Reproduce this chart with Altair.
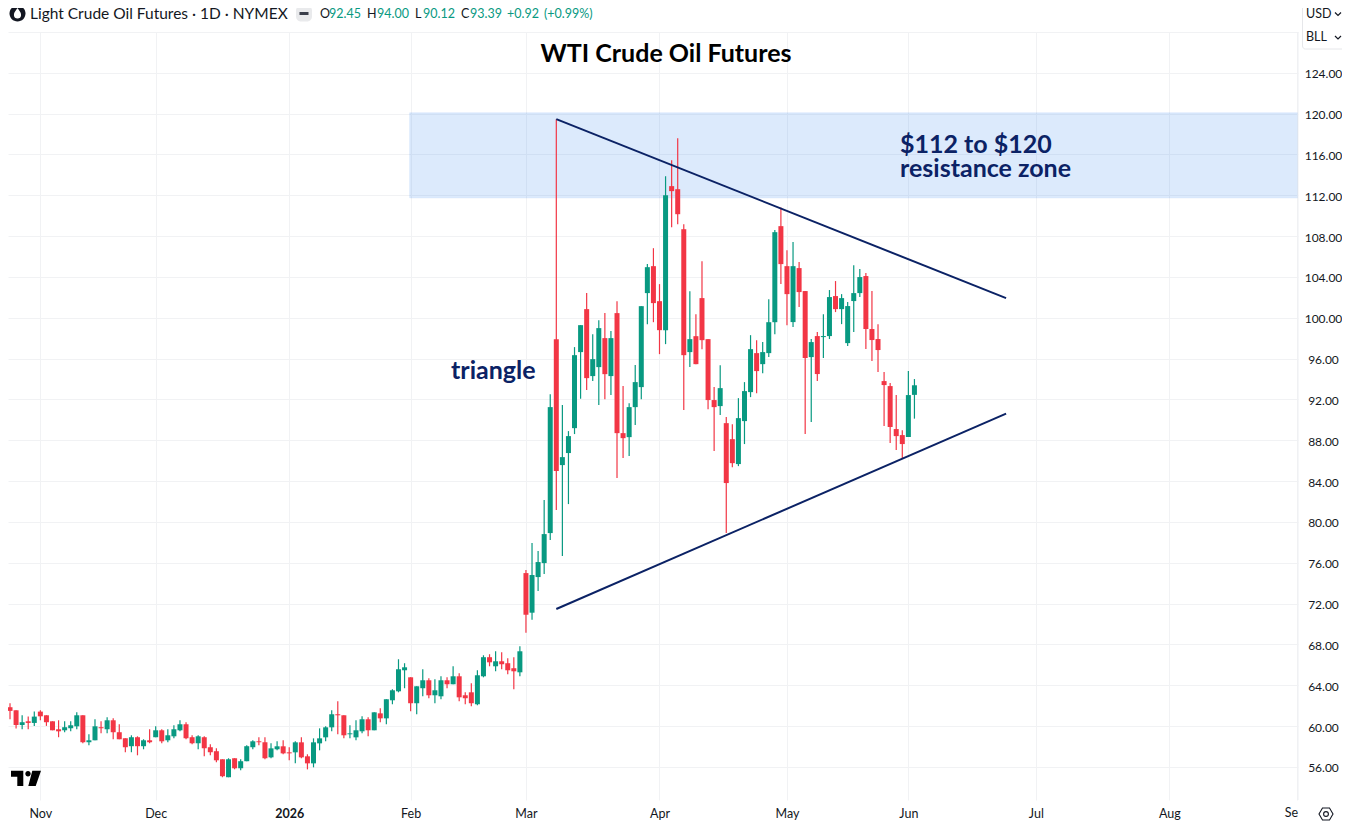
import json
import altair as alt
import pandas as pd

opens = [61.81,61.85,61.55,60.11,60.47,60.31,61.42,61.06,60.47,59.69,
59.59,59.79,59.98,61.06,58.42,58.61,59.89,59.69,60.57,59.40,
58.81,58.03,58.91,58.03,58.61,58.91,59.59,58.61,59.00,59.59,
60.18,58.91,58.32,58.91,57.93,57.54,56.75,54.99,56.85,55.87,
56.56,57.93,58.51,58.42,56.94,57.73,58.02,57.43,57.43,58.41,
57.04,56.35,58.31,58.90,59.88,61.16,61.06,59.20,58.90,59.49,
60.67,59.59,61.25,60.76,62.53,63.41,65.47,64.78,62.24,63.71,
64.49,63.02,62.92,64.49,64.10,64.88,63.02,63.31,62.14,64.88,
66.75,65.86,66.35,66.16,65.67,65.27,74.99,71.11,74.60,75.97,
78.91,97.91,85.57,86.75,89.19,96.64,100.85,94.29,95.17,98.01,
94.29,100.46,88.70,88.31,91.25,93.21,102.42,105.06,101.63,98.79,
112.90,112.60,108.68,96.64,98.20,101.93,97.91,91.94,91.35,89.68,
88.11,85.67,89.88,92.72,96.54,95.46,96.54,99.57,108.98,105.06,
99.58,104.87,102.62,96.15,98.21,98.11,98.21,102.13,100.85,97.52,
101.64,102.42,104.09,98.90,97.92,93.80,93.31,89.10,88.51,88.32,92.45]
closes = [61.32,61.49,60.11,60.38,60.31,60.93,60.96,60.38,59.59,59.49,
59.89,60.08,61.06,58.42,58.61,59.98,59.79,60.57,59.40,58.71,
57.93,58.91,58.03,58.61,58.42,59.59,58.51,59.10,59.69,60.18,
58.81,58.32,59.00,57.83,57.44,56.65,55.09,56.75,55.87,56.56,
58.03,58.51,58.42,56.84,57.82,58.02,57.33,57.33,58.41,56.94,
56.35,58.41,58.80,59.88,61.16,61.06,59.10,59.29,59.59,60.67,
59.59,61.35,60.76,62.63,63.51,65.57,65.76,62.24,63.90,64.49,
63.02,63.51,64.49,64.10,64.88,62.82,62.73,62.24,64.98,66.75,
66.25,66.35,66.06,65.47,65.37,67.33,70.91,74.80,76.07,78.81,
91.25,84.98,86.35,88.41,96.34,99.28,94.09,95.95,98.99,94.48,
98.01,88.70,88.21,91.25,93.70,101.14,104.96,101.44,98.79,112.01,
112.41,110.15,96.34,97.91,95.46,97.81,91.94,91.25,93.11,83.81,
85.76,90.17,92.82,96.93,94.78,96.64,99.57,108.39,105.26,102.32,
105.06,102.52,96.06,97.62,94.49,98.21,102.03,100.85,101.93,101.15,
102.42,103.99,98.90,97.82,96.84,93.41,89.30,88.41,87.63,92.43,93.39]
highs = [62.63,62.24,61.55,61.06,60.93,61.42,61.55,61.06,60.47,60.57,
60.47,60.47,61.36,61.06,59.20,60.67,60.47,60.87,60.77,60.18,
58.81,59.10,59.00,58.71,59.69,59.98,59.69,59.69,60.08,60.57,
60.38,59.10,59.10,59.00,58.22,57.83,56.75,56.85,56.85,56.75,
58.12,58.61,58.91,58.91,58.31,58.51,58.61,57.92,58.51,58.90,
57.24,58.80,59.78,59.98,61.55,62.43,61.06,60.08,60.57,60.96,
60.86,61.35,61.75,62.63,63.61,66.55,66.16,64.78,63.90,65.57,
64.69,64.59,64.88,64.78,65.86,65.18,63.31,64.20,65.47,66.94,
67.04,67.33,67.24,66.65,66.75,67.82,75.29,77.93,77.15,82.14,
92.52,119.46,91.45,88.90,97.13,99.28,102.42,98.40,99.77,100.46,
98.70,101.63,93.31,91.64,95.37,101.14,105.26,106.82,103.30,113.87,
115.44,117.60,109.17,102.61,100.36,105.55,97.91,93.21,95.36,90.27,
89.58,92.13,93.70,98.30,97.81,97.62,101.83,108.59,110.81,106.63,
107.42,105.46,102.62,97.92,98.60,100.36,102.72,103.60,102.32,101.54,
105.16,104.77,104.38,102.62,99.38,94.68,93.61,92.43,88.99,94.78,94.00]
lows = [61.22,60.67,59.76,59.69,59.69,60.02,60.57,60.02,59.59,58.91,
59.40,59.49,59.69,58.32,58.12,58.61,59.30,59.30,58.71,58.71,
57.44,57.44,57.14,57.73,58.32,58.91,58.32,58.42,58.81,59.49,
58.71,58.22,57.73,57.05,57.14,56.46,54.99,54.99,55.77,55.67,
56.56,57.73,58.12,56.75,56.84,57.63,57.24,56.65,56.35,56.84,
55.76,55.96,57.63,58.51,59.49,59.20,58.80,58.80,58.61,59.29,
59.00,59.59,60.37,60.18,62.14,63.31,63.71,61.45,61.16,62.92,
62.73,62.24,62.63,63.71,64.10,62.43,62.14,61.94,62.04,64.78,
65.86,65.37,65.57,65.08,63.61,64.88,69.15,70.42,73.23,74.89,
78.22,81.16,76.66,81.75,88.61,92.07,92.92,93.80,91.45,92.03,
92.43,84.30,86.26,86.45,89.49,92.03,99.38,99.57,96.44,97.42,
108.88,109.17,90.96,95.17,95.46,96.93,91.05,86.94,90.47,78.91,
85.37,85.47,87.63,92.23,92.62,94.58,96.15,98.40,103.30,99.28,
99.09,101.05,88.61,89.79,93.80,96.06,97.92,100.56,99.38,97.23,
98.60,102.03,96.94,95.76,94.68,89.39,87.73,87.04,86.26,88.32,90.12]

month_bars = [6, 25, 47, 67, 86, 108, 129, 149, 170, 192, 213]
month_labels = ["Nov", "Dec", "2026", "Feb", "Mar", "Apr", "May", "Jun", "Jul", "Aug", ""]
price_ticks = list(range(56, 129, 4))
zone_low, zone_high = 111.75, 120.08
zone_start, x_end = 66.85, 213.19
upper_bars, upper_prices = [91, 165.1], [119.46, 101.93]
lower_bars, lower_prices = [91, 165.1], [71.47, 90.62]

GREEN, RED, NAVY, INK = "#089981", "#f23645", "#0b2265", "#131722"
FONT = "Lato"
x_scale = alt.Scale(domain=[0.669, x_end], nice=False, zero=False, padding=0)
y_scale = alt.Scale(domain=[52.76, 128.0], nice=False, zero=False, padding=0)

candles = pd.DataFrame({"bar": range(len(opens)), "open": opens, "high": highs, "low": lows, "close": closes})
candles["dir"] = ["up" if c >= o else "down" for o, c in zip(opens, closes)]
color = alt.Color("dir:N", scale=alt.Scale(domain=["up", "down"], range=[GREEN, RED]), legend=None)

label_expr = "%s[indexof(%s, datum.value)]" % (json.dumps(month_labels), json.dumps(month_bars))
x_axis = alt.Axis(values=month_bars, labelExpr=label_expr, title=None, domain=False, ticks=False,
                  grid=True, gridColor="#f1f2f4", labelFont=FONT, labelFontSize=12.5, labelColor=INK,
                  labelPadding=7, labelFlush=False, labelOverlap=False,
                  labelFontWeight={"condition": {"test": "datum.value == 47", "value": "bold"}, "value": "normal"})
y_axis = alt.Axis(values=price_ticks, orient="right", title=None, domain=False, ticks=False, grid=True,
                  gridColor="#f1f2f4", labelFont=FONT, labelFontSize=12, labelColor=INK,
                  labelAlign="center", labelPadding=25, labelOffset=1, labelOverlap=False,
                  labelExpr="datum.value == 128 ? '' : format(datum.value, '.2f')")
X = lambda f: alt.X(f, scale=x_scale, axis=x_axis)
Y = lambda f: alt.Y(f, scale=y_scale, axis=y_axis)

zone = alt.Chart(pd.DataFrame({"x": [zone_start], "x2": [x_end], "y": [zone_low], "y2": [zone_high]})).mark_rect(
    fill="#2f80ed", fillOpacity=0.17, stroke="#2f80ed", strokeOpacity=0.1, strokeWidth=1, clip=True).encode(
    x=X("x:Q"), x2="x2:Q", y=Y("y:Q"), y2="y2:Q")

separator = alt.Chart(pd.DataFrame({"x": [x_end]})).mark_rule(color="#eef0f3", strokeWidth=1).encode(x=X("x:Q"))

wicks = alt.Chart(candles).mark_rule(strokeWidth=1.2, clip=True).encode(
    x=X("bar:Q"), y=Y("low:Q"), y2="high:Q", color=color)
bodies = alt.Chart(candles).mark_bar(size=5, orient="vertical", clip=True).encode(
    x=X("bar:Q"), y=Y("open:Q"), y2="close:Q", color=color)


def trend(bars, prices):
    d = pd.DataFrame({"bar": bars, "price": prices})
    return alt.Chart(d).mark_line(color=NAVY, strokeWidth=2).encode(x=X("bar:Q"), y=Y("price:Q"))


def txt(s, x, y, size=12, col=INK, weight="normal", align="left", font=FONT, **kw):
    # x, y are positions on the 1350x826 page
    return alt.Chart(pd.DataFrame({"t": [s]})).mark_text(
        fontSize=size, color=col, fontWeight=weight, align=align, baseline="middle", font=font, **kw).encode(
        text="t:N", x=alt.value(x - 8), y=alt.value(y - 32))


def glyph(path, x, y, fill=None, stroke=None, sw=1.2):
    args = dict(shape=path, size=4, opacity=1)
    if fill:
        args.update(filled=True, fill=fill)
    else:
        args.update(filled=False, stroke=stroke, strokeWidth=sw)
    return alt.Chart(pd.DataFrame({"k": [0]})).mark_point(**args).encode(
        x=alt.value(x - 8), y=alt.value(y - 32))


circle = lambda r: f"M{-r},0a{r},{r} 0 1,0 {2*r},0a{r},{r} 0 1,0 {-2*r},0Z"
logo = "M-15,-7.8H-2.7V7.5H-8.7V-1.8H-15Z" + "M-0.7,-4.8a2.7,2.7 0 1,0 5.4,0a2.7,2.7 0 1,0 -5.4,0Z" + "M6.3,-7.8H15L9.7,7.5H2.3Z"
drop = "M0,-5.5C1.6,-3 3.6,-1.2 3.6,1.4C3.6,3.6 2,5 0,5C-2,5 -3.6,3.6 -3.6,1.4C-3.6,-1.2 -1.6,-3 0,-5.5Z"
pill = "M-3,-8H3A5,5 0 0,1 8,-3V3A5,5 0 0,1 3,8H-3A5,5 0 0,1 -8,3V-3A5,5 0 0,1 -3,-8Z"
dash = "M-4.5,-1.5H4.5V1.5H-4.5Z"
box = "M-19.5,-24H19.5A3,3 0 0,1 22.5,-21V21A3,3 0 0,1 19.5,24H-19.5A3,3 0 0,1 -22.5,21V-21A3,3 0 0,1 -19.5,-24Z"
chev = "M-3,-1.5L0,1.5L3,-1.5"
hexa = "M-7,0L-3.5,-6H3.5L7,0L3.5,6H-3.5Z"

HY = 14
header = [
    glyph(circle(8), 17.5, 13.5, fill="#131722"),
    glyph(drop, 17.5, 13.5, fill="#ffffff"),
    txt("Light Crude Oil Futures · 1D · NYMEX", 30, HY, size=15.5),
    glyph(pill, 304, 13.5, fill="#e9eaec"),
    glyph(dash, 304, 13.5, fill="#3a3e4a"),
]
for letter, lx, value, vx in [("O", 320, "92.45", 329), ("H", 367, "94.00", 377),
                              ("L", 415, "90.12", 423), ("C", 461, "93.39", 470)]:
    header += [txt(letter, lx, HY, size=12.5), txt(value, vx, HY, size=12.5, col=GREEN)]
header += [txt("+0.92", 507, HY, size=12.5, col=GREEN), txt("(+0.99%)", 544, HY, size=12.5, col=GREEN)]

annots = [
    txt("WTI Crude Oil Futures", 666, 54, size=25, col="#000000", weight="bold", align="center"),
    txt("$112 to $120\nresistance zone", 900, 145, size=25, col=NAVY, weight="bold", lineBreak="\n", lineHeight=24),
    txt("triangle", 451, 370.5, size=25, col=NAVY, weight="bold"),
    glyph(logo, 26, 778.5, fill="#000000"),
    glyph(box, 1325, 25, stroke="#e6e7ea", sw=1),
    txt("USD", 1306, 14, size=12.5), glyph(chev, 1338, 14, stroke=INK),
    txt("BLL", 1306, 37, size=12.5), glyph(chev, 1338, 37.5, stroke=INK),
    glyph(hexa, 1326, 814, stroke=INK, sw=1.1), glyph(circle(2.4), 1326, 814, stroke=INK, sw=1.1),
    txt("Se", 1298, 813, size=12.5, align="right"),
]

chart = alt.layer(zone, separator, wicks, bodies, trend(upper_bars, upper_prices), trend(lower_bars, lower_prices),
                  *header, *annots).properties(
    width=1290, height=768,
    autosize=alt.AutoSizeParams(type="none"),
    padding={"left": 0, "top": 24, "right": 44, "bottom": 24},
    background="#ffffff",
).configure_view(stroke=None)
chart.save("out.html", embed_options={"renderer": "svg", "actions": False})
